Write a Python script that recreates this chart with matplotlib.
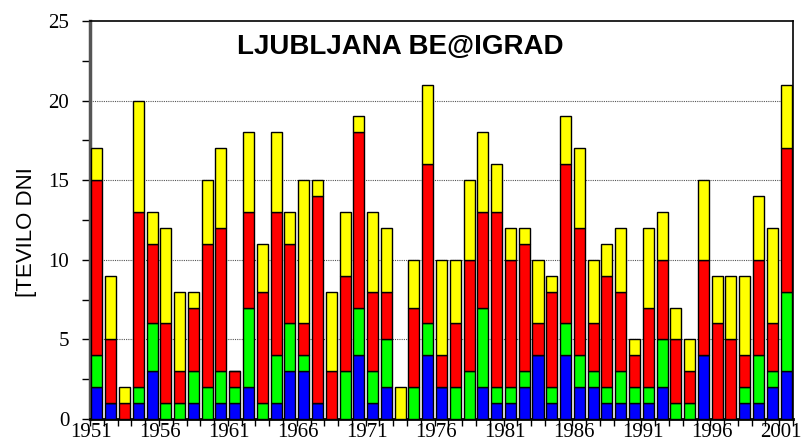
import numpy as np
import matplotlib.pyplot as plt
from matplotlib.ticker import MultipleLocator

years = list(range(1951, 2002))

blue = [2, 1, 0, 1, 3, 0, 0, 1, 0, 1,
        1, 2, 0, 1, 3, 3, 1, 0, 0, 4,
        1, 2, 0, 0, 4, 2, 0, 0, 2, 1,
        1, 2, 4, 1, 4, 2, 2, 1, 1, 1,
        1, 2, 0, 0, 4, 0, 0, 1, 1, 2,
        3]
green = [2, 0, 0, 1, 3, 1, 1, 2, 2, 2,
         1, 5, 1, 3, 3, 1, 0, 0, 3, 3,
         2, 3, 0, 2, 2, 0, 2, 3, 5, 1,
         1, 1, 0, 1, 2, 2, 1, 1, 2, 1,
         1, 3, 1, 1, 0, 0, 0, 1, 3, 1,
         5]
red = [11, 4, 1, 11, 5, 5, 2, 4, 9, 9,
       1, 6, 7, 9, 5, 2, 13, 3, 6, 11,
       5, 3, 0, 5, 10, 2, 4, 7, 6, 11,
       8, 8, 2, 6, 10, 8, 3, 7, 5, 2,
       5, 5, 4, 2, 6, 6, 5, 2, 6, 3,
       9]
yellow = [2, 4, 1, 7, 2, 6, 5, 1, 4, 5,
          0, 5, 3, 5, 2, 9, 1, 5, 4, 1,
          5, 4, 2, 3, 5, 6, 4, 5, 5, 3,
          2, 1, 4, 1, 3, 5, 4, 2, 4, 1,
          5, 3, 2, 2, 5, 3, 4, 5, 4, 6,
          4]

series = [blue, green, red, yellow]
colors = ['#0000ff', '#00ff00', '#ff0000', '#ffff00']

fig = plt.figure(figsize=(8.01, 4.46), dpi=100)
ax = fig.add_axes([0.1124, 0.0605, 0.8776, 0.8925])

x = np.arange(len(years))
bottom = np.zeros(len(years))
for vals, c in zip(series, colors):
    ax.bar(x, vals, width=0.8, bottom=bottom, color=c, edgecolor='black', linewidth=1, zorder=3)
    bottom += np.array(vals)

ax.set_xlim(-0.5, len(years) - 0.5)
ax.set_ylim(0, 25)

# labels sit a little left of the bar centres, as in the original
ax.set_xticks(x[::5] - 0.4)
ax.set_xticklabels([str(y) for y in years[::5]], family='Liberation Serif', fontsize=15)
ax.set_xticks(np.arange(len(years) + 1) - 0.5, minor=True)
ax.tick_params(axis='x', which='major', length=0, pad=3)
ax.tick_params(axis='x', which='minor', length=5, direction='out', width=1)

ax.yaxis.set_major_locator(MultipleLocator(5))
ax.yaxis.set_minor_locator(MultipleLocator(2.5))
ax.tick_params(axis='y', which='major', length=6, width=1, direction='out', pad=9)
ax.tick_params(axis='y', which='minor', length=6, width=1, direction='out')
for lab in ax.get_yticklabels():
    lab.set_family('Liberation Serif')
    lab.set_fontsize(15)

for v in [5, 10, 15, 20]:
    ax.axhline(v, color='#555555', linestyle=(0, (1, 1)), linewidth=0.8, zorder=1)

ax.spines['left'].set_linewidth(2.5)
ax.spines['left'].set_color('#555555')
ax.spines['bottom'].set_linewidth(2)
ax.spines['top'].set_linewidth(1.2)
ax.spines['right'].set_linewidth(1.2)

ax.set_ylabel('[TEVILO DNI', family='Liberation Sans', fontsize=16)
ax.yaxis.set_label_coords(-0.075, 0.47)
ax.text(0.441, 0.935, 'LJUBLJANA BE@IGRAD', transform=ax.transAxes, ha='center', va='center',
        family='Liberation Sans', fontsize=20, fontweight='bold')

fig.savefig('out.png', dpi=100)
